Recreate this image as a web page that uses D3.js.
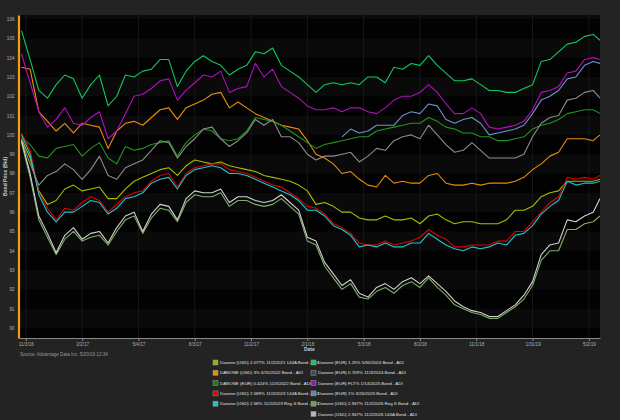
<!DOCTYPE html>
<html><head><meta charset="utf-8">
<script src="https://cdn.jsdelivr.net/npm/d3@7"></script>
<style>html,body{margin:0;padding:0;background:#232323;}svg{display:block;}</style>
</head><body>
<svg id="chart" width="620" height="420"></svg>
<script>
const dates = ["2016-10-27","2016-11-10","2016-11-24","2016-12-08","2016-12-22","2017-01-05","2017-01-19","2017-02-02","2017-02-16","2017-03-02","2017-03-16","2017-03-30","2017-04-13","2017-04-27","2017-05-11","2017-05-25","2017-06-08","2017-06-22","2017-07-06","2017-07-20","2017-08-03","2017-08-17","2017-08-31","2017-09-14","2017-09-28","2017-10-12","2017-10-26","2017-11-09","2017-11-23","2017-12-07","2017-12-21","2018-01-04","2018-01-18","2018-02-01","2018-02-15","2018-03-01","2018-03-15","2018-03-29","2018-04-12","2018-04-26","2018-05-10","2018-05-24","2018-06-07","2018-06-21","2018-07-05","2018-07-19","2018-08-02","2018-08-16","2018-08-30","2018-09-13","2018-09-27","2018-10-11","2018-10-25","2018-11-08","2018-11-22","2018-12-06","2018-12-20","2019-01-03","2019-01-17","2019-01-31","2019-02-14","2019-02-28","2019-03-14","2019-03-28","2019-04-11","2019-04-25","2019-05-09","2019-05-20"];

const yTicks = [90,91,92,93,94,95,96,97,98,99,100,101,102,103,104,105,106];
const xTickDates = ["2016-11-03","2017-02-02","2017-05-04","2017-08-03","2017-11-02","2018-02-01","2018-05-03","2018-08-02","2018-11-01","2019-01-31","2019-05-02"];
const xTickLabels = ["11/3/16","2/2/17","5/4/17","8/3/17","11/2/17","2/1/18","5/3/18","8/2/18","11/1/18","1/31/19","5/2/19"];

const seriesNames = [
 "Danone (USD) 2.077% 11/2/2021 144A Bond - ADI",
 "DANONE (USD) 3% 6/15/2022 Bond - ADI",
 "DANONE (EUR) 0.424% 11/3/2022 Bond - ADI",
 "Danone (USD) 2.589% 11/2/2023 144A Bond - ADI",
 "Danone (USD) 2.58% 11/2/2023 Reg S Bond - ADI",
 "Danone (EUR) 1.25% 5/30/2024 Bond - ADI",
 "Danone (EUR) 0.709% 11/3/2024 Bond - ADI",
 "Danone (EUR) FLT% 1/14/2025 Bond - ADI",
 "Danone (EUR) 1% 3/26/2025 Bond - ADI",
 "Danone (USD) 2.947% 11/2/2026 Reg S Bond - ADI",
 "Danone (USD) 2.947% 11/2/2026 144A Bond - ADI"
];
const seriesColors = ["#a6be00","#ee8c08","#1f961f","#e00000","#1ec4d0","#10c860","#8c8c8c","#b010c0","#7090c8","#7fae6a","#d2d2d2"];
const swatchColors = ["#9aac1a","#ee8c08","#1a7a1a","#d40000","#1ec4d0","#10c860","#4a4a4a","#a010b0","#6680b8","#6ea05a","#b8b8b8"];

const usd2077_2021 = [99.8,98.8,97.1,96.4,96.6,97.2,97.4,97.1,97.2,97.3,96.7,96.7,97.2,97.6,97.8,98.0,98.2,98.3,97.9,98.4,98.7,98.6,98.5,98.6,98.4,98.3,98.2,98.1,97.9,97.8,97.7,97.6,97.4,97.1,96.4,96.5,96.3,96.0,96.0,95.7,95.6,95.6,95.8,95.6,95.6,95.7,95.4,95.8,95.9,95.6,95.4,95.5,95.5,95.4,95.4,95.4,95.6,96.1,96.1,96.3,96.8,97.0,97.1,97.6,97.6,97.6,97.6,97.7];
const usd3_2022 = [103.5,103.4,101.2,100.7,100.2,100.6,100.1,100.6,100.5,100.4,99.3,100.2,100.6,100.7,100.5,100.9,101.3,101.4,100.8,101.4,101.6,101.8,102.1,102.2,101.4,101.7,101.4,101.1,100.9,100.7,100.5,100.4,100.3,99.7,99.0,98.8,98.5,98.0,98.1,97.7,97.4,97.3,97.9,97.5,97.6,97.5,97.5,97.9,98.0,97.5,97.4,97.4,97.5,97.4,97.5,97.5,97.5,97.6,97.8,98.2,98.5,98.9,99.1,99.8,99.8,99.8,99.7,100.0];
const eur0424_2022 = [99.9,99.5,98.9,98.8,99.3,99.4,99.5,98.9,99.3,99.6,98.8,98.5,99.4,99.2,99.3,99.5,99.6,99.7,98.9,99.6,100.0,100.3,100.2,99.8,99.7,99.8,100.2,100.9,100.8,100.7,100.5,100.2,99.9,99.6,99.3,99.5,99.6,99.7,99.8,99.9,99.9,100.2,100.3,100.4,100.5,100.6,100.6,100.9,100.7,100.4,100.3,100.1,100.1,99.9,99.9,99.7,99.7,99.8,99.9,100.3,100.5,100.6,100.8,101.1,101.2,101.3,101.3,101.1];
const usd2589_2023_144a = [100.1,99.2,97.0,96.2,95.6,96.2,96.1,96.5,96.8,96.6,96.0,96.4,96.8,97.0,97.1,97.6,97.9,98.0,97.3,98.0,98.3,98.4,98.5,98.5,98.2,98.1,98.0,97.8,97.6,97.4,97.3,97.0,96.7,96.3,96.2,95.9,95.4,95.2,94.9,94.4,94.3,94.3,94.5,94.3,94.4,94.5,94.7,95.1,94.8,94.6,94.2,94.2,94.3,94.3,94.3,94.5,94.5,95.0,95.0,95.5,96.0,96.5,96.8,97.8,97.7,97.8,97.7,97.9];
const usd258_2023_regs = [100.0,99.0,96.9,96.0,95.5,96.0,96.0,96.3,96.6,96.5,95.9,96.2,96.7,96.8,97.0,97.5,97.7,97.8,97.2,97.9,98.2,98.3,98.4,98.3,98.0,98.0,97.9,97.7,97.5,97.3,97.1,96.9,96.6,96.1,96.1,95.8,95.3,95.1,94.8,94.2,94.3,94.2,94.4,94.2,94.2,94.4,94.4,94.9,94.6,94.3,94.1,94.0,94.2,94.1,94.2,94.4,94.3,94.8,94.9,95.3,95.9,96.3,96.6,97.6,97.4,97.5,97.5,97.6];
const eur125_2024 = [105.4,103.9,102.3,101.9,102.6,103.1,102.9,101.9,102.6,103.1,101.5,102.0,103.1,103.0,103.3,103.4,103.9,103.9,102.5,103.3,103.8,104.1,103.8,103.6,103.1,103.4,103.6,104.3,104.2,104.5,103.6,103.3,103.0,102.6,102.2,102.6,102.7,102.6,102.7,102.6,103.0,103.0,102.7,103.5,103.4,103.7,103.6,104.1,103.6,103.2,102.8,102.8,102.9,102.6,102.3,102.3,102.2,102.2,102.4,102.6,103.8,103.9,104.3,104.7,104.8,105.1,105.2,104.9];
const eur0709_2024 = [99.7,98.5,97.4,97.9,98.1,98.5,98.2,97.7,98.2,98.9,97.9,97.7,98.3,98.5,98.7,99.2,99.7,99.6,98.8,99.4,99.8,100.3,100.4,99.8,99.4,99.7,100.1,100.8,100.5,100.8,99.9,99.9,99.6,99.0,98.7,98.9,98.9,99.0,99.1,98.6,98.9,99.3,99.2,99.7,99.9,100.0,99.8,100.5,100.0,99.5,99.1,99.2,99.6,99.2,98.8,98.8,98.8,98.8,99.0,99.9,100.6,100.9,101.0,101.8,101.9,102.2,102.3,101.9];
const eurFlt_2025 = [104.2,102.7,101.2,100.4,100.8,101.4,100.6,100.5,100.9,101.2,99.8,100.2,101.1,102.0,102.1,102.4,102.8,102.9,101.8,102.3,102.7,103.1,103.0,103.3,102.2,102.4,102.5,103.7,103.0,103.4,102.5,102.2,101.9,101.5,101.3,101.3,101.4,101.2,101.4,101.4,101.2,101.1,101.4,101.8,102.0,102.0,102.2,102.6,102.2,101.6,101.1,101.1,101.4,101.1,100.4,100.3,100.4,100.5,100.7,101.3,102.2,102.3,102.5,103.2,103.3,103.9,104.0,103.9];
const eur1_2025 = [null,null,null,null,null,null,null,null,null,null,null,null,null,null,null,null,null,null,null,null,null,null,null,null,null,null,null,null,null,null,null,null,null,null,null,null,null,99.9,100.3,100.1,100.2,100.5,100.5,100.5,101.0,101.2,101.1,101.6,101.5,100.8,100.6,100.8,100.9,100.6,100.0,100.1,100.2,100.3,100.5,101.1,101.8,102.0,102.3,102.9,103.0,103.6,103.8,103.7];
const usd2947_2026_regs = [99.6,97.8,95.6,94.7,93.8,94.6,95.0,94.5,94.7,94.8,94.3,95.0,95.6,95.8,94.9,95.7,96.2,96.1,95.5,96.5,96.9,96.8,96.8,97.0,96.3,96.6,96.6,96.4,96.3,96.4,96.7,96.3,95.9,94.5,94.3,93.2,92.6,92.0,92.3,91.6,91.5,91.9,92.1,91.8,92.2,92.4,92.1,92.6,92.1,91.7,91.2,91.0,90.8,90.7,90.5,90.5,90.8,91.1,91.5,92.2,93.5,94.0,94.0,95.1,95.1,95.4,95.5,95.8];
const usd2947_2026_144a = [99.7,98.0,95.8,94.9,93.9,94.8,95.2,94.6,94.9,95.0,94.4,95.2,95.8,96.0,95.0,95.9,96.4,96.3,95.6,96.7,97.1,97.0,97.0,97.2,96.5,96.8,96.8,96.6,96.5,96.6,96.9,96.5,96.1,94.7,94.5,93.4,92.8,92.2,92.5,91.8,91.6,92.1,92.3,92.0,92.4,92.6,92.3,92.7,92.3,91.9,91.4,91.1,90.9,90.8,90.6,90.6,90.9,91.2,91.7,92.4,93.8,94.3,94.4,95.6,95.5,95.8,96.0,96.7];

const seriesValues = [usd2077_2021,usd3_2022,eur0424_2022,usd2589_2023_144a,usd258_2023_regs,eur125_2024,eur0709_2024,eurFlt_2025,eur1_2025,usd2947_2026_regs,usd2947_2026_144a];

const parse = d3.timeParse("%Y-%m-%d");
const W = 620, H = 420;
const plot = {left: 19, right: 600, top: 15, bottom: 338};
const svg = d3.select("#chart");
svg.append("rect").attr("width", W).attr("height", H).attr("fill", "#232323");

const x = d3.scaleTime().domain([parse("2016-10-23"), parse("2019-05-20")]).range([plot.left, plot.right]);
const y = d3.scaleLinear().domain([89.483, 106.207]).range([plot.bottom, plot.top]);

// plot background
svg.append("rect").attr("x", plot.left).attr("y", plot.top)
  .attr("width", plot.right - plot.left).attr("height", plot.bottom - plot.top).attr("fill", "#020202");

// alternating bands
const bandG = svg.append("g");
yTicks.forEach(v => {
  if (v % 2 === 0) {
    const y0 = Math.max(plot.top, y(v + 1)), y1 = Math.min(plot.bottom, y(v));
    if (y1 > y0) bandG.append("rect").attr("x", plot.left).attr("y", y0)
      .attr("width", plot.right - plot.left).attr("height", y1 - y0).attr("fill", "#0a0a0a");
  }
});
// vertical grid
xTickDates.forEach(d => {
  bandG.append("line").attr("x1", x(parse(d))).attr("x2", x(parse(d)))
    .attr("y1", plot.top).attr("y2", plot.bottom).attr("stroke", "#181818").attr("stroke-width", 1);
});

svg.append("clipPath").attr("id", "clip").append("rect")
  .attr("x", plot.left).attr("y", plot.top).attr("width", plot.right - plot.left).attr("height", plot.bottom - plot.top);

const line = d3.line()
  .defined(d => d.v != null)
  .x(d => x(d.date)).y(d => y(d.v));

const linesG = svg.append("g").attr("clip-path", "url(#clip)");
seriesValues.forEach((vals, k) => {
  const data = dates.map((d, i) => ({date: parse(d), v: vals[i]}));
  linesG.append("path").datum(data).attr("d", line)
    .attr("fill", "none").attr("stroke", seriesColors[k]).attr("stroke-width", 1.1)
    .attr("stroke-linejoin", "round");
});

// Y axis
const yAxis = d3.axisLeft(y).tickValues(yTicks).tickSize(0).tickPadding(4).tickSizeOuter(0).tickFormat(d3.format("d"));
const gy = svg.append("g").attr("transform", `translate(${plot.left - 0.5},0)`).call(yAxis);
gy.select(".domain").attr("stroke", "#f0a010").attr("stroke-width", 2.2);
gy.selectAll("text").attr("fill", "#b0b0b0").attr("font-size", "4.6px").attr("font-family", "Liberation Sans, Arial, sans-serif");

// X axis
const xAxis = d3.axisBottom(x).tickValues(xTickDates.map(parse)).tickSize(3).tickPadding(1.5).tickSizeOuter(0)
  .tickFormat((d, i) => xTickLabels[i]);
const gx = svg.append("g").attr("transform", `translate(0,${plot.bottom})`).call(xAxis);
gx.select(".domain").attr("stroke", "#8a8a8a").attr("stroke-width", 1);
gx.selectAll(".tick line").attr("stroke", "#8a8a8a");
gx.selectAll("text").attr("fill", "#b0b0b0").attr("font-size", "4.6px").attr("font-family", "Liberation Sans, Arial, sans-serif");

// axis titles
svg.append("text").attr("x", x(parse("2018-02-01")) + 2).attr("y", 351).attr("text-anchor", "middle")
  .attr("fill", "#c8c8c8").attr("font-size", "5px").attr("font-weight", "bold")
  .attr("font-family", "Liberation Sans, Arial, sans-serif").text("Date");
svg.append("text").attr("transform", `translate(6.5,${(plot.top + plot.bottom) / 2}) rotate(-90)`)
  .attr("text-anchor", "middle").attr("fill", "#c8c8c8").attr("font-size", "5px").attr("font-weight", "bold")
  .attr("font-family", "Liberation Sans, Arial, sans-serif").text("Bond Price (Bid)");

// source
svg.append("text").attr("x", 20).attr("y", 355.5).attr("fill", "#9a9a9a").attr("font-size", "4.6px")
  .attr("font-family", "Liberation Sans, Arial, sans-serif").text("Source: Advantage Data Inc. 5/20/19 12:34");

// legend
const legendG = svg.append("g");
seriesNames.forEach((name, k) => {
  const col = k < 5 ? 0 : 1;
  const row = k < 5 ? k : k - 5;
  const lx = col === 0 ? 213 : 311;
  const ly = 362.5 + row * 10.3;
  legendG.append("rect").attr("x", lx).attr("y", ly - 2.5).attr("width", 5).attr("height", 5)
    .attr("fill", swatchColors[k]).attr("stroke", "#9a9a9a").attr("stroke-width", 0.5);
  legendG.append("text").attr("x", lx + 7).attr("y", ly + 1.6).attr("fill", "#e0e0e0")
    .attr("font-size", "4.4px").attr("font-family", "Liberation Sans, Arial, sans-serif").text(name);
});
</script>
</body></html>
